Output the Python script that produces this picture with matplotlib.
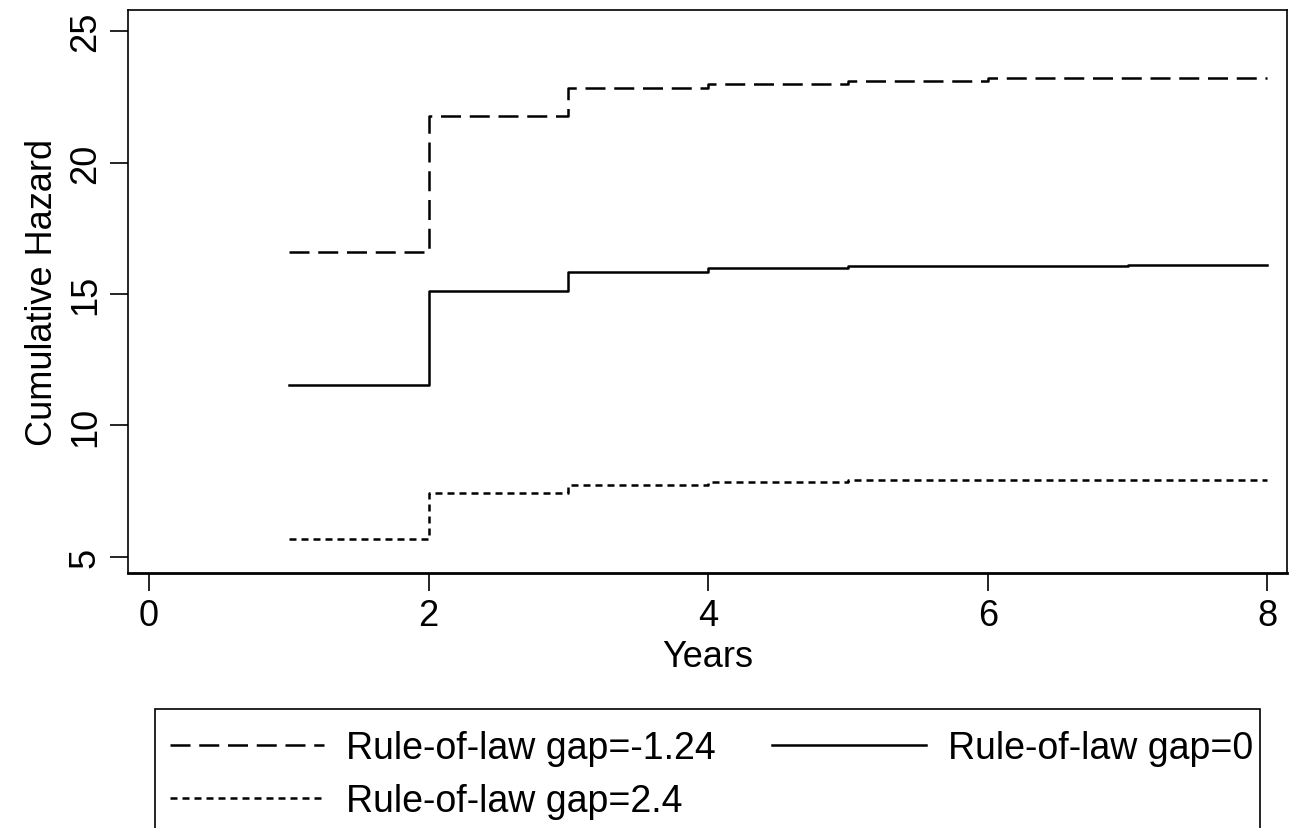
import matplotlib
matplotlib.use("Agg")
import matplotlib.pyplot as plt
from matplotlib.patches import Rectangle

plt.rcParams['font.family'] = ['Liberation Sans', 'DejaVu Sans']

# step values (value holds from year t until the next change)
years = [1, 2, 3, 4, 5, 6, 7, 8]
gap_neg = [16.6, 21.75, 22.85, 23.0, 23.1, 23.2, 23.2, 23.2]   # gap = -1.24
gap_zero = [11.55, 15.1, 15.85, 16.0, 16.08, 16.08, 16.12, 16.12]  # gap = 0
gap_pos = [5.68, 7.43, 7.75, 7.85, 7.93, 7.93, 7.93, 7.93]    # gap = 2.4

labels = ['Rule-of-law gap=-1.24', 'Rule-of-law gap=0', 'Rule-of-law gap=2.4']

fs = 26
W, H = 1291, 829

fig = plt.figure(figsize=(12.91, 8.29), dpi=100)
ax = fig.add_axes([128 / W, 1 - 574 / H, (1287 - 128) / W, (574 - 11) / H])

l1, = ax.step(years, gap_neg, where='post', color='black', lw=1.8, dashes=(8, 3.5))
l2, = ax.step(years, gap_zero, where='post', color='black', lw=1.8)
l3, = ax.step(years, gap_pos, where='post', color='black', lw=1.8, dashes=(2.8, 2))

ax.set_xlim(-0.15, 8.14)
ax.set_ylim(4.39, 25.8)
ax.set_xticks([0, 2, 4, 6, 8])
ax.set_yticks([5, 10, 15, 20, 25])
ax.tick_params(direction='out', length=13, width=1.2, labelsize=fs, pad=5)
for t in ax.get_yticklabels():
    t.set_rotation(90)
    t.set_va('center')
for s in ax.spines.values():
    s.set_linewidth(1.2)
ax.spines['bottom'].set_linewidth(2)

ax.set_xlabel('Years', fontsize=fs, labelpad=4)
ax.set_ylabel('Cumulative Hazard', fontsize=fs, labelpad=6)

# legend box (runs off the bottom edge like in the original)
fig.patches.append(Rectangle((155 / W, -0.05), (1260 - 155) / W, 0.05 + (829 - 710) / H,
                             transform=fig.transFigure, fill=False, edgecolor='black', lw=1.2))

# row-major order: -1.24 and 0 on the first row, 2.4 below
leg = fig.legend([l1, l3, l2], [labels[0], labels[2], labels[1]], ncol=2,
                 loc='upper left', bbox_to_anchor=(155 / W, 1 - 716 / H),
                 fontsize=27, handlelength=4.1, handletextpad=0.6, columnspacing=1.5,
                 frameon=False, borderpad=0.4, labelspacing=0.45, borderaxespad=0)

fig.savefig('out.png', dpi=100)
